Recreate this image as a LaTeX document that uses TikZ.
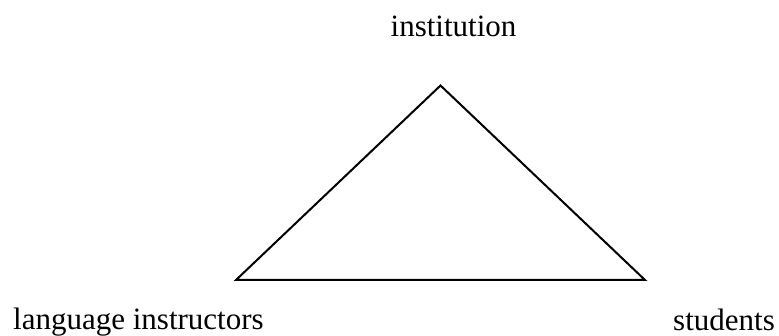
\documentclass[tikz,border=0pt]{standalone}
\usepackage{fontspec}
\setmainfont{Liberation Serif}
\begin{document}
\begin{tikzpicture}[x=1pt,y=1pt,
  lbl/.style={inner sep=0pt,font=\fontsize{31}{36}\selectfont},
  edge/.style={line width=2pt,line join=miter}]
\useasboundingbox (0,0) rectangle (779,336);
\coordinate (top) at (440.5,250.5);
\coordinate (bl) at (236,56);
\coordinate (br) at (645,56);
\draw[edge] (top) -- (bl) -- (br) -- cycle;
\node[lbl,anchor=base] (inst) at (453.5,299) {institution};
\node[lbl,anchor=base west] (lang) at (13,6) {language instructors};
\node[lbl,anchor=base east] (stud) at (775,5.5) {students};
\end{tikzpicture}
\end{document}
